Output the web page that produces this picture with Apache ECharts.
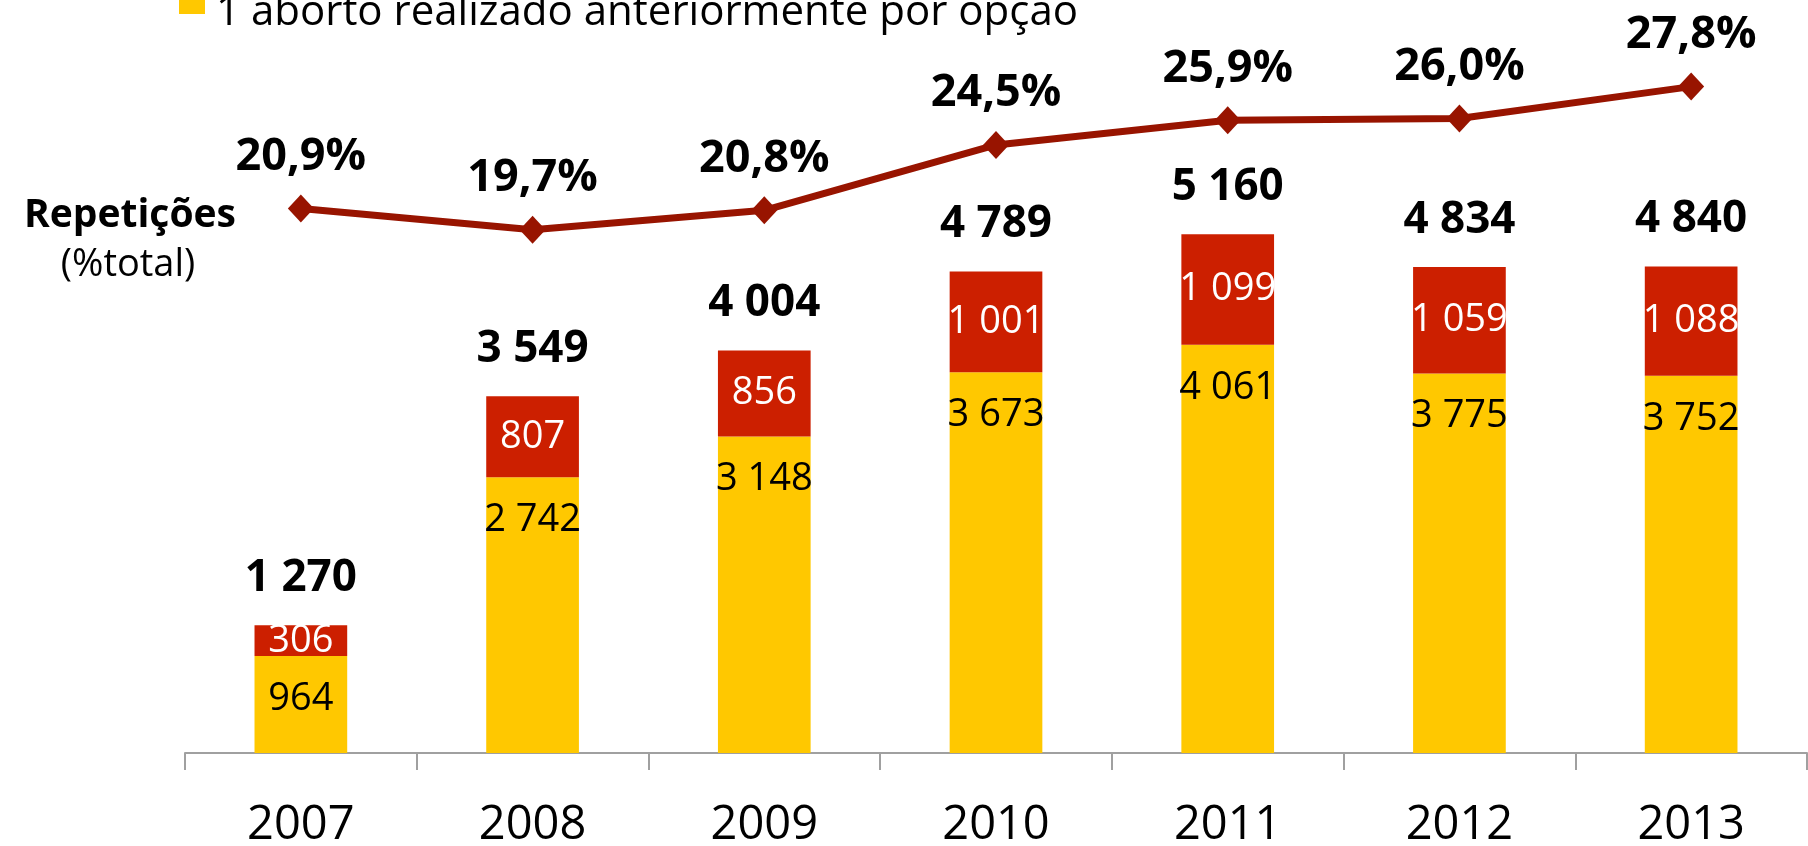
<!DOCTYPE html>
<html>
<head>
<meta charset="utf-8">
<script src="https://cdn.jsdelivr.net/npm/echarts@6/dist/echarts.min.js"></script>
<style>
  html, body { margin: 0; padding: 0; background: #fff; }
  #chart { width: 1808px; height: 846px; }
</style>
</head>
<body>
<div id="chart"></div>
<script>
// anos
var years = ['2007', '2008', '2009', '2010', '2011', '2012', '2013'];
// parte amarela (altura da barra) e o número que aparece escrito nela
var primeiroAborto = [964, 2742, 3148, 3788, 4061, 3775, 3752];
var primeiroAbortoTxt = [964, 2742, 3148, 3673, 4061, 3775, 3752];
// 1 aborto realizado anteriormente por opção
var repeticoes = [306, 807, 856, 1001, 1099, 1059, 1088];
// totais escritos por cima das barras
var totais = [1270, 3549, 4004, 4789, 5160, 4834, 4840];
// repetições (% do total)
var pctRepeticoes = [20.9, 19.7, 20.8, 24.5, 25.9, 26.0, 27.8];

var FONT = '"Open Sans", "Noto Sans", sans-serif';

function fmt(n) {
  return String(n).replace(/\B(?=(\d{3})+(?!\d))/g, ' ');
}

var myChart = echarts.init(document.getElementById('chart'));

myChart.setOption({
  animation: false,
  grid: { left: 185, right: 1, top: 0, bottom: 93, outerBoundsMode: 'none', containLabel: false },
  xAxis: {
    type: 'category',
    data: years,
    boundaryGap: true,
    axisLine: { lineStyle: { color: '#a0a0a0', width: 2 } },
    axisTick: { show: true, alignWithLabel: false, interval: 0, length: 17, lineStyle: { color: '#a0a0a0', width: 2 } },
    axisLabel: { color: '#000', fontFamily: FONT, fontSize: 47, margin: 49 }
  },
  yAxis: [
    { type: 'value', min: 0, max: 7490, show: false },
    { type: 'value', min: -9.9, max: 32.7, show: false }
  ],
  series: [
    {
      name: 'primeiro',
      type: 'bar',
      stack: 'total',
      barWidth: '40%',
      data: primeiroAborto,
      itemStyle: { color: '#ffc800' },
      label: {
        show: true,
        position: 'insideTop',
        distance: 24,
        color: '#000',
        fontFamily: FONT,
        fontSize: 38,
        formatter: function (p) { return fmt(primeiroAbortoTxt[p.dataIndex]); }
      }
    },
    {
      name: '1 aborto realizado anteriormente por opção',
      type: 'bar',
      stack: 'total',
      barWidth: '40%',
      data: repeticoes,
      itemStyle: { color: '#cc1f00' },
      label: {
        show: true,
        position: 'inside',
        color: '#fff',
        fontFamily: FONT,
        fontSize: 38,
        formatter: function (p) { return fmt(p.value); }
      }
    },
    {
      // só serve para os totais em cima das barras
      name: 'totais',
      type: 'bar',
      stack: 'total',
      barWidth: '40%',
      data: repeticoes.map(function () { return 0; }),
      itemStyle: { color: 'transparent' },
      label: {
        show: true,
        position: 'top',
        distance: 25,
        color: '#000',
        fontFamily: FONT,
        fontWeight: 'bold',
        fontSize: 44,
        formatter: function (p) { return fmt(totais[p.dataIndex]); }
      }
    },
    {
      name: 'Repetições',
      type: 'line',
      yAxisIndex: 1,
      data: pctRepeticoes,
      symbol: 'diamond',
      symbolSize: [26, 28],
      z: 5,
      lineStyle: { color: '#981400', width: 7 },
      itemStyle: { color: '#981400' },
      label: {
        show: true,
        position: 'top',
        distance: 15,
        color: '#000',
        fontFamily: FONT,
        fontWeight: 'bold',
        fontSize: 45,
        formatter: function (p) { return p.value.toFixed(1).replace('.', ',') + '%'; }
      }
    }
  ],
  graphic: [
    {
      type: 'rect',
      shape: { x: 179, y: 0, width: 26, height: 14 },
      style: { fill: '#ffc800' }
    },
    {
      type: 'text',
      x: 216, y: 13,
      style: {
        text: '1 aborto realizado anteriormente por opção',
        font: '42px ' + FONT,
        fill: '#000',
        textAlign: 'left',
        textVerticalAlign: 'middle'
      }
    },
    {
      type: 'text',
      x: 130, y: 216,
      style: {
        text: 'Repetições',
        font: 'bold 39px ' + FONT,
        fill: '#000',
        textAlign: 'center',
        textVerticalAlign: 'middle'
      }
    },
    {
      type: 'text',
      x: 128, y: 265,
      style: {
        text: '(%total)',
        font: '38px ' + FONT,
        fill: '#000',
        textAlign: 'center',
        textVerticalAlign: 'middle'
      }
    }
  ]
});
</script>
</body>
</html>
